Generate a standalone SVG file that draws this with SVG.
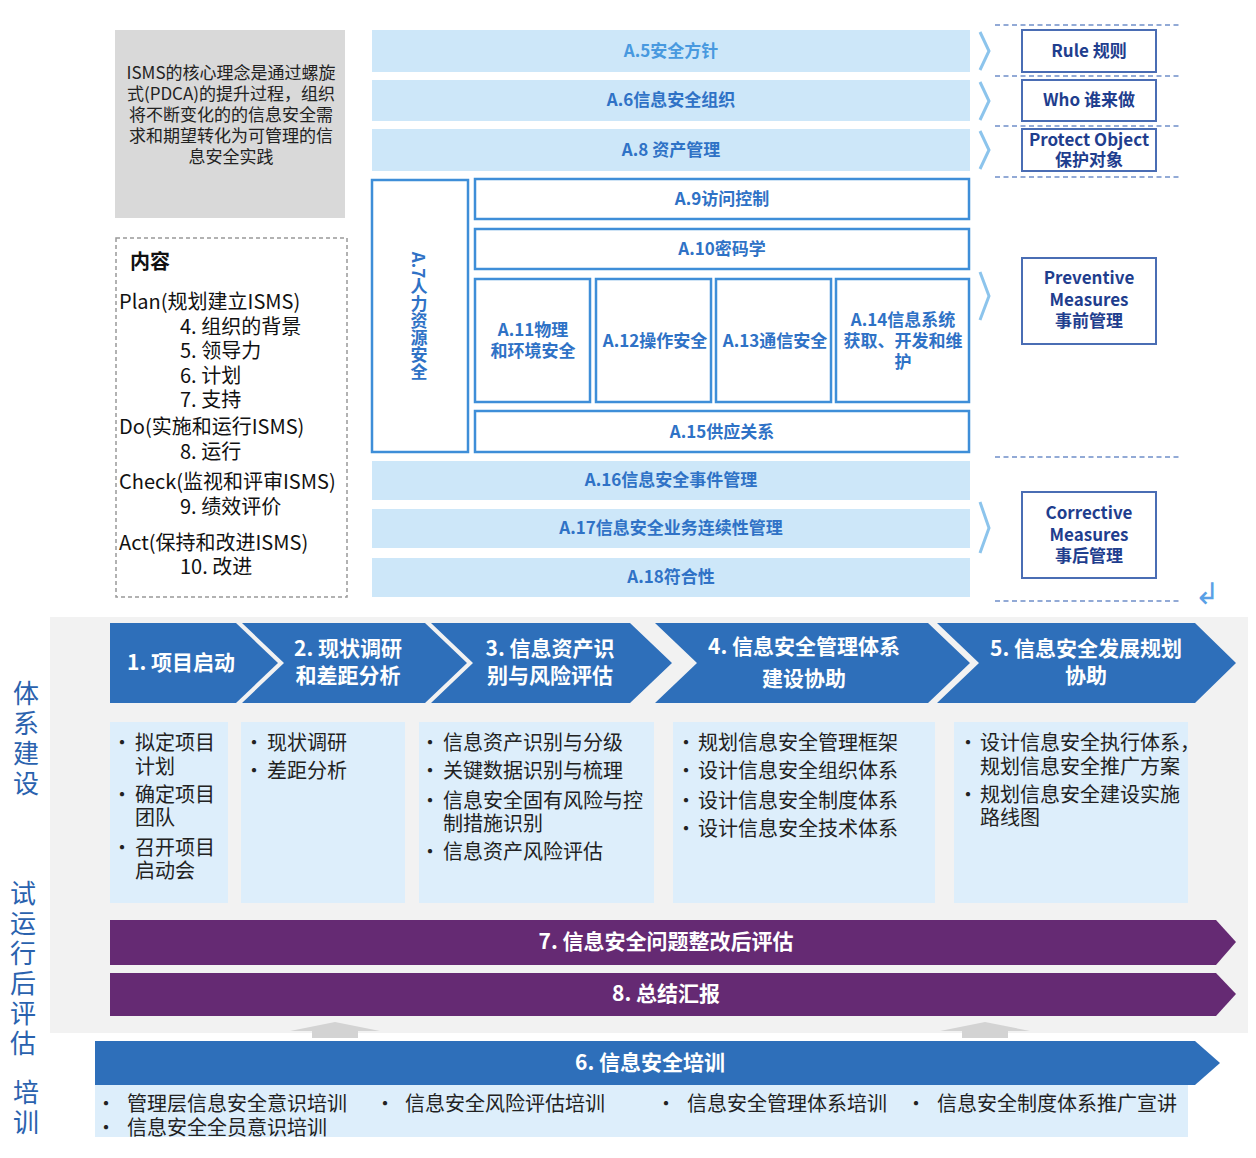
<svg xmlns="http://www.w3.org/2000/svg" width="1256" height="1158" viewBox="0 0 1256 1158">
<style>
text{font-family:"Noto Sans CJK SC","Noto Sans",sans-serif}
.gt{font-size:17px;fill:#222;text-anchor:middle}
.ct{font-size:20px;fill:#111}
.arow{fill:#cde7f9}
.wbox{fill:#fff;stroke:#3e8ed8;stroke-width:2.5}
.at{font-size:17px;font-weight:bold;fill:#2f72c6;text-anchor:middle}
.rbox{fill:#fff;stroke:#4a6db4;stroke-width:2}
.rt{font-size:17px;font-weight:bold;fill:#1f3e8e;text-anchor:middle}
.dash{stroke:#6f8fc9;stroke-width:1.6;stroke-dasharray:5 3.5;fill:none}
.chev{fill:none;stroke:#8cc4ec;stroke-width:3;stroke-linejoin:miter}
.bl{fill:#2e6fba}
.pu{fill:#652a73}
.wt{font-size:21px;font-weight:bold;fill:#fff;text-anchor:middle}
.lb{fill:#ddeefb}
.bt{font-size:20px;fill:#222}
.dot{font-size:20px;fill:#222;text-anchor:middle}
.side{font-size:26px;fill:#2a62ae;text-anchor:middle}
.brk{fill:none;stroke:#5b9bd5;stroke-width:2}
.up{fill:#d3d3d3}
</style>

<g id="intro">
<rect x="115" y="30" width="230" height="188" fill="#d9d9d9"/>
<text class="gt"><tspan x="231" y="79">ISMS的核心理念是通过螺旋</tspan><tspan x="231" dy="21">式(PDCA)的提升过程，组织</tspan><tspan x="231" dy="21">将不断变化的的信息安全需</tspan><tspan x="231" dy="21">求和期望转化为可管理的信</tspan><tspan x="231" dy="21">息安全实践</tspan></text>
</g>

<g id="contents">
<rect x="116" y="238" width="231" height="359" fill="#fff" stroke="#999" stroke-width="1.5" stroke-dasharray="4 3"/>
<text x="130" y="269" font-size="20" font-weight="bold" fill="#111">内容</text>
<text class="ct"><tspan x="119" y="309">Plan(规划建立ISMS)</tspan><tspan x="180" y="334">4. 组织的背景</tspan><tspan x="180" y="358">5. 领导力</tspan><tspan x="180" y="383">6. 计划</tspan><tspan x="180" y="407">7. 支持</tspan><tspan x="119" y="434">Do(实施和运行ISMS)</tspan><tspan x="180" y="459">8. 运行</tspan><tspan x="119" y="489">Check(监视和评审ISMS)</tspan><tspan x="180" y="514">9. 绩效评价</tspan><tspan x="119" y="550">Act(保持和改进ISMS)</tspan><tspan x="180" y="574">10. 改进</tspan></text>
</g>

<g id="a5"><rect class="arow" x="372" y="30" width="598" height="42"/><text class="at" x="671" y="57" style="fill:#4899df">A.5安全方针</text></g>
<g id="a6"><rect class="arow" x="372" y="80" width="598" height="41"/><text class="at" x="671" y="106">A.6信息安全组织</text></g>
<g id="a8"><rect class="arow" x="372" y="129" width="598" height="42"/><text class="at" x="671" y="156">A.8 资产管理</text></g>
<g id="a7"><rect class="wbox" x="372" y="180" width="96" height="272"/><text class="at" x="419" y="316" style="writing-mode:vertical-rl">A.7人力资源安全</text></g>
<g id="a9"><rect class="wbox" x="475" y="179" width="494" height="40"/><text class="at" x="722" y="205">A.9访问控制</text></g>
<g id="a10"><rect class="wbox" x="475" y="229" width="494" height="40"/><text class="at" x="722" y="255">A.10密码学</text></g>
<g id="a11"><rect class="wbox" x="475" y="279" width="115" height="123"/><text class="at"><tspan x="533" y="336">A.11物理</tspan><tspan x="533" dy="21">和环境安全</tspan></text></g>
<g id="a12"><rect class="wbox" x="596" y="279" width="115" height="123"/><text class="at" x="655" y="347">A.12操作安全</text></g>
<g id="a13"><rect class="wbox" x="716" y="279" width="115" height="123"/><text class="at" x="775" y="347">A.13通信安全</text></g>
<g id="a14"><rect class="wbox" x="836" y="279" width="133" height="123"/><text class="at"><tspan x="903" y="326">A.14信息系统</tspan><tspan x="903" dy="21">获取、开发和维</tspan><tspan x="903" dy="21">护</tspan></text></g>
<g id="a15"><rect class="wbox" x="475" y="411" width="494" height="41"/><text class="at" x="722" y="438">A.15供应关系</text></g>
<g id="a16"><rect class="arow" x="372" y="461" width="598" height="39"/><text class="at" x="671" y="486">A.16信息安全事件管理</text></g>
<g id="a17"><rect class="arow" x="372" y="509" width="598" height="39"/><text class="at" x="671" y="534">A.17信息安全业务连续性管理</text></g>
<g id="a18"><rect class="arow" x="372" y="558" width="598" height="39"/><text class="at" x="671" y="583">A.18符合性</text></g>

<g id="connectors">
<polyline class="chev" points="980,32 989,51 980,70"/>
<polyline class="chev" points="980,82 989,101 980,120"/>
<polyline class="chev" points="980,131 989,150 980,169"/>
<polyline class="chev" points="980,272 989,296 980,320"/>
<polyline class="chev" points="980,502 989,528 980,553"/>
<line class="dash" x1="995" y1="25" x2="1180" y2="25"/>
<line class="dash" x1="995" y1="76" x2="1180" y2="76"/>
<line class="dash" x1="995" y1="126" x2="1180" y2="126"/>
<line class="dash" x1="995" y1="177" x2="1180" y2="177"/>
<line class="dash" x1="995" y1="457" x2="1180" y2="457"/>
<line class="dash" x1="995" y1="601" x2="1180" y2="601"/>
<text x="1207" y="604" font-size="30" fill="#5aa0e6" text-anchor="middle" style="font-family:'DejaVu Sans',sans-serif">↲</text>
<path class="brk" d="M95,640 H80 V882 H95"/>
<path class="brk" d="M95,927 H80 V1000 H95"/>
</g>

<g id="rule"><rect class="rbox" x="1022" y="30" width="134" height="42"/><text class="rt" x="1089" y="57">Rule 规则</text></g>
<g id="who"><rect class="rbox" x="1022" y="80" width="134" height="41"/><text class="rt" x="1089" y="106">Who 谁来做</text></g>
<g id="protect"><rect class="rbox" x="1022" y="129" width="134" height="42"/><text class="rt"><tspan x="1089" y="146">Protect Object</tspan><tspan x="1089" dy="20">保护对象</tspan></text></g>
<g id="preventive"><rect class="rbox" x="1022" y="258" width="134" height="86"/><text class="rt"><tspan x="1089" y="284">Preventive</tspan><tspan x="1089" dy="22">Measures</tspan><tspan x="1089" dy="21">事前管理</tspan></text></g>
<g id="corrective"><rect class="rbox" x="1022" y="492" width="134" height="86"/><text class="rt"><tspan x="1089" y="519">Corrective</tspan><tspan x="1089" dy="22">Measures</tspan><tspan x="1089" dy="21">事后管理</tspan></text></g>

<g id="bottom-bg"><rect x="50" y="617" width="1198" height="416" fill="#f2f2f2"/></g>

<g id="side-labels">
<text class="side"><tspan x="26" y="703">体</tspan><tspan x="26" dy="30">系</tspan><tspan x="26" dy="30">建</tspan><tspan x="26" dy="30">设</tspan></text>
<text class="side"><tspan x="23" y="903">试</tspan><tspan x="23" dy="30">运</tspan><tspan x="23" dy="30">行</tspan><tspan x="23" dy="30">后</tspan><tspan x="23" dy="30">评</tspan><tspan x="23" dy="30">估</tspan></text>
<text class="side"><tspan x="26" y="1102">培</tspan><tspan x="26" dy="30">训</tspan></text>
</g>

<g id="step1"><polygon class="bl" points="110,623 236,623 278,663 236,703 110,703"/><text class="wt" x="181" y="670">1. 项目启动</text></g>
<g id="step2"><polygon class="bl" points="242,623 425,623 467,663 425,703 242,703 284,663"/><text class="wt"><tspan x="348" y="656">2. 现状调研</tspan><tspan x="348" dy="27">和差距分析</tspan></text></g>
<g id="step3"><polygon class="bl" points="431,623 630,623 672,663 630,703 431,703 473,663"/><text class="wt"><tspan x="550" y="656">3. 信息资产识</tspan><tspan x="550" dy="27">别与风险评估</tspan></text></g>
<g id="step4"><polygon class="bl" points="655,623 928,623 970,663 928,703 655,703 697,663"/><text class="wt"><tspan x="804" y="654">4. 信息安全管理体系</tspan><tspan x="804" dy="32">建设协助</tspan></text></g>
<g id="step5"><polygon class="bl" points="937,623 1195,623 1236,663 1195,703 937,703 979,663"/><text class="wt"><tspan x="1086" y="656">5. 信息安全发展规划</tspan><tspan x="1086" dy="27">协助</tspan></text></g>

<g id="detail1"><rect class="lb" x="110" y="722" width="118" height="181"/>
<text class="dot"><tspan x="122" y="750">•</tspan><tspan x="122" y="802">•</tspan><tspan x="122" y="855">•</tspan></text>
<text class="bt"><tspan x="135" y="750">拟定项目</tspan><tspan x="135" y="774">计划</tspan><tspan x="135" y="802">确定项目</tspan><tspan x="135" y="825">团队</tspan><tspan x="135" y="855">召开项目</tspan><tspan x="135" y="878">启动会</tspan></text></g>
<g id="detail2"><rect class="lb" x="241" y="722" width="164" height="181"/>
<text class="dot"><tspan x="254" y="750">•</tspan><tspan x="254" y="778">•</tspan></text>
<text class="bt"><tspan x="267" y="750">现状调研</tspan><tspan x="267" y="778">差距分析</tspan></text></g>
<g id="detail3"><rect class="lb" x="419" y="722" width="235" height="181"/>
<text class="dot"><tspan x="430" y="750">•</tspan><tspan x="430" y="778">•</tspan><tspan x="430" y="808">•</tspan><tspan x="430" y="859">•</tspan></text>
<text class="bt"><tspan x="443" y="750">信息资产识别与分级</tspan><tspan x="443" y="778">关键数据识别与梳理</tspan><tspan x="443" y="808">信息安全固有风险与控</tspan><tspan x="443" y="831">制措施识别</tspan><tspan x="443" y="859">信息资产风险评估</tspan></text></g>
<g id="detail4"><rect class="lb" x="673" y="722" width="262" height="181"/>
<text class="dot"><tspan x="686" y="750">•</tspan><tspan x="686" y="778">•</tspan><tspan x="686" y="808">•</tspan><tspan x="686" y="836">•</tspan></text>
<text class="bt"><tspan x="698" y="750">规划信息安全管理框架</tspan><tspan x="698" y="778">设计信息安全组织体系</tspan><tspan x="698" y="808">设计信息安全制度体系</tspan><tspan x="698" y="836">设计信息安全技术体系</tspan></text></g>
<g id="detail5"><rect class="lb" x="954" y="722" width="234" height="181"/>
<text class="dot"><tspan x="968" y="750">•</tspan><tspan x="968" y="802">•</tspan></text>
<text class="bt"><tspan x="980" y="750">设计信息安全执行体系，</tspan><tspan x="980" y="774">规划信息安全推广方案</tspan><tspan x="980" y="802">规划信息安全建设实施</tspan><tspan x="980" y="825">路线图</tspan></text></g>

<g id="step7"><polygon class="pu" points="110,920 1216,920 1236,942 1216,965 110,965"/><text class="wt" x="666" y="949">7. 信息安全问题整改后评估</text></g>
<g id="step8"><polygon class="pu" points="110,973 1216,973 1236,994 1216,1016 110,1016"/><text class="wt" x="666" y="1001">8. 总结汇报</text></g>

<g id="up-arrows">
<polygon class="up" points="290,1031 335,1022 380,1031 358,1031 358,1038 312,1038 312,1031"/>
<polygon class="up" points="940,1031 985,1022 1030,1031 1008,1031 1008,1038 962,1038 962,1031"/>
</g>

<g id="step6"><polygon class="bl" points="95,1041 1195,1041 1220,1063 1195,1085 95,1085"/><text class="wt" x="650" y="1070">6. 信息安全培训</text></g>
<g id="training"><rect class="lb" x="95" y="1085" width="1093" height="52"/>
<text class="dot"><tspan x="106" y="1111">•</tspan><tspan x="106" y="1135">•</tspan><tspan x="385" y="1111">•</tspan><tspan x="666" y="1111">•</tspan><tspan x="916" y="1111">•</tspan></text>
<text class="bt"><tspan x="127" y="1111">管理层信息安全意识培训</tspan><tspan x="127" y="1135">信息安全全员意识培训</tspan></text>
<text class="bt" x="405" y="1111">信息安全风险评估培训</text>
<text class="bt" x="687" y="1111">信息安全管理体系培训</text>
<text class="bt" x="937" y="1111">信息安全制度体系推广宣讲</text></g>
</svg>
